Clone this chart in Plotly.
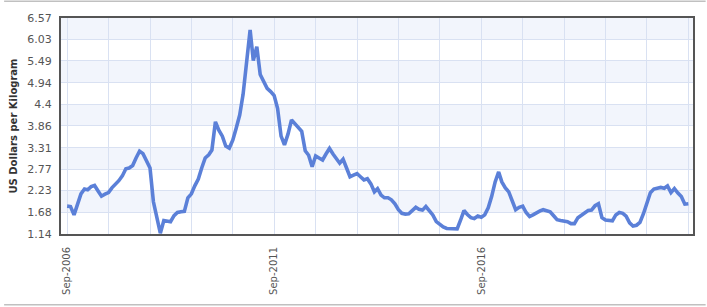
import pandas as pd
import plotly.graph_objects as go

# Monthly prices, Sep-2006 .. Sep-2021 (US$/kg)
start_month = "2006-09-01"
prices = [
    1.84, 1.83, 1.62, 1.87, 2.15, 2.27, 2.25, 2.33, 2.36, 2.22,
    2.09, 2.14, 2.18, 2.30, 2.38, 2.48, 2.60, 2.78, 2.80, 2.86,
    3.05, 3.22, 3.16, 2.98, 2.80, 1.95, 1.55, 1.16, 1.48, 1.47,
    1.45, 1.60, 1.68, 1.70, 1.71, 2.05, 2.15, 2.35, 2.52, 2.80,
    3.05, 3.13, 3.25, 3.96, 3.75, 3.60, 3.35, 3.30, 3.50, 3.80,
    4.13, 4.65, 5.45, 6.27, 5.50, 5.85, 5.15, 4.98, 4.80, 4.72,
    4.62, 4.30, 3.60, 3.38, 3.65, 4.01, 3.92, 3.82, 3.72, 3.23,
    3.12, 2.83, 3.10, 3.05, 3.00, 3.15, 3.29, 3.15, 3.05, 2.92,
    3.02, 2.80, 2.58, 2.62, 2.66, 2.58, 2.50, 2.53, 2.40, 2.20,
    2.28, 2.12, 2.05, 2.05, 2.00, 1.90, 1.75, 1.66, 1.64, 1.65,
    1.72, 1.81, 1.76, 1.74, 1.83, 1.72, 1.62, 1.45, 1.38, 1.32,
    1.28, 1.27, 1.27, 1.27, 1.48, 1.73, 1.63, 1.55, 1.53, 1.59,
    1.56, 1.62, 1.80, 2.08, 2.45, 2.70, 2.45, 2.30, 2.20, 1.95,
    1.75, 1.81, 1.84, 1.68, 1.58, 1.62, 1.68, 1.72, 1.75, 1.73,
    1.70, 1.60, 1.50, 1.48, 1.47, 1.45, 1.40, 1.40, 1.55, 1.62,
    1.68, 1.73, 1.74, 1.85, 1.90, 1.55, 1.49, 1.48, 1.47, 1.62,
    1.68, 1.66, 1.59, 1.42, 1.34, 1.36, 1.43, 1.65, 1.90, 2.18,
    2.27, 2.30, 2.31, 2.29, 2.35, 2.18, 2.28, 2.17, 2.08, 1.89,
    1.90,
]
months = pd.date_range(start_month, periods=len(prices), freq="MS")

y_ticks = [1.14, 1.68, 2.23, 2.77, 3.31, 3.86, 4.4, 4.94, 5.49, 6.03, 6.57]
x_tick_dates = ["2006-09-01", "2011-09-01", "2016-09-01"]
x_tick_labels = ["Sep-2006", "Sep-2011", "Sep-2016"]
x_range = ["2006-07-09", "2021-10-12"]
y_title = "US Dollars per Kilogram"

fig = go.Figure()
fig.add_trace(go.Scatter(
    x=months, y=prices, mode="lines",
    line=dict(color="#5b80d8", width=3.6),
    hoverinfo="skip", showlegend=False,
))

band_shapes = []
for k in range(len(y_ticks) - 1):
    if (len(y_ticks) - 2 - k) % 2 == 0:
        band_shapes.append(dict(
            type="rect", xref="paper", yref="y", x0=0, x1=1,
            y0=y_ticks[k], y1=y_ticks[k + 1],
            fillcolor="#f2f5fc", line=dict(width=0), layer="below",
        ))
frame_shapes = [
    dict(type="line", xref="paper", yref="paper", x0=-0.09, x1=1.02,
         y0=1.077, y1=1.077, line=dict(color="#c0c0c0", width=1.5)),
    dict(type="line", xref="paper", yref="paper", x0=-0.09, x1=1.02,
         y0=-0.328, y1=-0.328, line=dict(color="#c0c0c0", width=1.5)),
]

font_family = "DejaVu Sans, Verdana, sans-serif"
fig.update_layout(
    width=707, height=307,
    margin=dict(l=61, r=12, t=17, b=73),
    paper_bgcolor="white", plot_bgcolor="white",
    shapes=band_shapes + frame_shapes,
    font=dict(family=font_family, color="#555555"),
)
fig.update_xaxes(
    type="date", range=x_range,
    tickmode="array", tickvals=x_tick_dates, ticktext=x_tick_labels,
    tickangle=-90, tickfont=dict(size=10, color="#555555"),
    ticks="outside", ticklen=7, tickcolor="rgba(0,0,0,0)",
    showgrid=True, gridcolor="#d9e1f2", gridwidth=1,
    minor=dict(dtick="M12", tick0="2006-09-01", showgrid=True,
               gridcolor="#d9e1f2", gridwidth=1),
    showline=True, linecolor="#555555", linewidth=2, mirror=True,
    zeroline=False,
)
fig.update_yaxes(
    range=[y_ticks[0], y_ticks[-1]],
    tickmode="array", tickvals=y_ticks, ticktext=[str(v) for v in y_ticks],
    tickfont=dict(size=11, color="#555555"),
    ticks="outside", ticklen=5, tickcolor="rgba(0,0,0,0)",
    showgrid=True, gridcolor="#d9e1f2", gridwidth=1,
    showline=True, linecolor="#555555", linewidth=2, mirror=True,
    zeroline=False,
    title=dict(text="<b>" + y_title + "</b>", standoff=8,
               font=dict(size=10, color="#333333")),
)
fig.write_html("out.html")
